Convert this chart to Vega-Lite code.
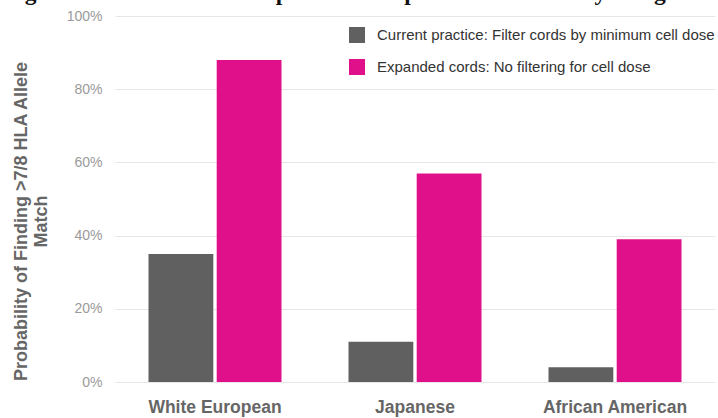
{
  "$schema": "https://vega.github.io/schema/vega-lite/v6.json",
  "width": 600,
  "height": 366,
  "autosize": "none",
  "padding": {"left": 115, "top": 16, "right": 3, "bottom": 36},
  "background": "white",
  "title": {
    "text": "ong adult based on current practice compared to availability using MC",
    "anchor": "start",
    "frame": "group",
    "dx": -115,
    "offset": -14,
    "baseline": "alphabetic",
    "font": "Liberation Serif",
    "fontSize": 23.5,
    "fontWeight": "bold",
    "color": "#111111"
  },
  "data": {
    "values": [
      {"group": "White European", "series": "Current practice: Filter cords by minimum cell dose", "value": 0.35},
      {"group": "White European", "series": "Expanded cords: No filtering for cell dose", "value": 0.88},
      {"group": "Japanese", "series": "Current practice: Filter cords by minimum cell dose", "value": 0.11},
      {"group": "Japanese", "series": "Expanded cords: No filtering for cell dose", "value": 0.57},
      {"group": "African American", "series": "Current practice: Filter cords by minimum cell dose", "value": 0.04},
      {"group": "African American", "series": "Expanded cords: No filtering for cell dose", "value": 0.39}
    ]
  },
  "mark": {"type": "bar"},
  "encoding": {
    "x": {
      "field": "group",
      "type": "nominal",
      "sort": ["White European", "Japanese", "African American"],
      "scale": {"paddingInner": 0.335, "paddingOuter": 0.1675},
      "axis": {
        "title": null,
        "labelAngle": 0,
        "domain": false,
        "ticks": false,
        "labelFont": "Liberation Sans",
        "labelFontSize": 17.5,
        "labelFontWeight": "bold",
        "labelColor": "#666666",
        "labelPadding": 16
      }
    },
    "xOffset": {
      "field": "series",
      "type": "nominal",
      "scale": {"paddingInner": 0.05}
    },
    "y": {
      "field": "value",
      "type": "quantitative",
      "scale": {"domain": [0, 1]},
      "axis": {
        "values": [0, 0.2, 0.4, 0.6, 0.8, 1],
        "format": ".0%",
        "domain": false,
        "ticks": false,
        "gridColor": "#e6e6e6",
        "labelFont": "Liberation Sans",
        "labelFontSize": 14,
        "labelColor": "#9a9a9a",
        "labelPadding": 13,
        "title": ["Probability of Finding >7/8 HLA Allele", "Match"],
        "titleFont": "Liberation Sans",
        "titleFontSize": 18,
        "titleFontWeight": "bold",
        "titleColor": "#666666",
        "titleAnchor": "middle",
        "titleX": -94,
        "titleY": 205,
        "titleBaseline": "middle",
        "titleLineHeight": 20
      }
    },
    "color": {
      "field": "series",
      "type": "nominal",
      "scale": {"range": ["#606060", "#e0108a"]},
      "legend": {
        "title": null,
        "orient": "none",
        "legendX": 234,
        "legendY": 11,
        "symbolType": "square",
        "symbolSize": 256,
        "symbolStrokeWidth": 0,
        "symbolOpacity": 1,
        "labelFont": "Liberation Sans",
        "labelFontSize": 15,
        "labelColor": "#333333",
        "labelOffset": 12,
        "rowPadding": 16,
        "labelLimit": 600
      }
    }
  },
  "config": {
    "view": {"stroke": null}
  }
}
